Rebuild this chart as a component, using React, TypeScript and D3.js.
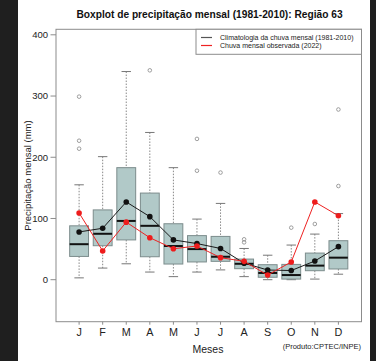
import React from 'react';
import * as d3 from 'd3';

/* ──────────  data  ────────── */
const months = ['J', 'F', 'M', 'A', 'M', 'J', 'J', 'A', 'S', 'O', 'N', 'D'];
const whiskerLow = [3, 19, 26, 12.5, 5, 12.5, 16, 5, 0, 0, 1, 9];
const q1 = [38, 55.5, 65, 37.5, 25.6, 29, 30, 18, 4, 1, 14.7, 17.5];
const median = [58, 75, 96, 88, 55, 50, 37.5, 26, 11, 7.6, 23, 36];
const q3 = [88, 114, 183, 141.5, 91.4, 72, 70.7, 33.7, 24.5, 25, 43.5, 63.7];
const whiskerHigh = [155, 201, 340, 240.5, 183, 99, 124.6, 51, 40, 56.6, 74.5, 108];
const outliers = [[299, 227, 214], [], [], [342], [], [230, 178], [175], [61, 66], [], [85], [91], [278, 153]];
const climatology = [78, 84, 127, 103, 65, 59, 51, 27, 15.8, 15, 30.5, 54];
const observed = [109, 47, 94, 68.6, 50.6, 55, 36, 30, 7.6, 29, 127, 104.5];
const yTicks = [0, 100, 200, 300, 400];

const W = 376, H = 361;
const P = { l: 56, r: 361.5, t: 29.3, b: 321.7 };
const font = 'Liberation Sans, Arial, Helvetica, sans-serif';
const frame = '#8c8c8c';

export default function App() {
  const x = d3.scaleLinear().domain([0.02, 12.98]).range([P.l, P.r]);
  const y = d3.scaleLinear().domain([-68.6, 409]).range([P.b, P.t]);
  const bw = (x(1.4) - x(0.6));
  const cap = bw / 2;

  const line = d3.line<number>().x((_, i) => x(i + 1)).y(d => y(d));

  return (
    <svg width={W} height={H} style={{ position: 'absolute', left: 0, top: 0, background: '#fff' }}
      fontFamily={font}>
      {/* dark side strips */}
      <rect x={0} y={0} width={18} height={H} fill="#1f1f1f" />
      <rect x={370} y={0} width={6} height={H} fill="#1f1f1f" />

      <text x={209.5} y={17.5} textAnchor="middle" fontWeight="bold" fontSize={10.2} fill="#111">
        Boxplot de precipitação mensal (1981-2010): Região 63
      </text>

      {/* y axis */}
      {yTicks.map(t => (
        <g key={t}>
          <line x1={P.l - 5.5} x2={P.l} y1={y(t)} y2={y(t)} stroke={frame} />
          <text x={P.l - 8} y={y(t) + 3.4} textAnchor="end" fontSize={9.5} fill="#222">{t}</text>
        </g>
      ))}
      <text transform={`translate(31,${(P.t + P.b) / 2}) rotate(-90)`} textAnchor="middle"
        fontSize={9.5} fill="#222">Precipitação mensal (mm)</text>

      {/* x axis */}
      {months.map((m, i) => (
        <g key={i}>
          <line x1={x(i + 1)} x2={x(i + 1)} y1={P.b} y2={P.b + 3} stroke={frame} />
          <text x={x(i + 1)} y={P.b + 14} textAnchor="middle" fontSize={10.8} fill="#222">{m}</text>
        </g>
      ))}
      <text x={208} y={353} textAnchor="middle" fontSize={10.5} fill="#222">Meses</text>
      <text x={361} y={349} textAnchor="end" fontSize={7.5} fill="#222">(Produto:CPTEC/INPE)</text>

      {/* boxes */}
      {months.map((_, i) => {
        const cx = x(i + 1);
        return (
          <g key={i}>
            <line x1={cx} x2={cx} y1={y(whiskerHigh[i])} y2={y(q3[i])} stroke="#888" strokeDasharray="1.5,1.5" />
            <line x1={cx} x2={cx} y1={y(q1[i])} y2={y(whiskerLow[i])} stroke="#888" strokeDasharray="1.5,1.5" />
            <line x1={cx - cap / 2} x2={cx + cap / 2} y1={y(whiskerHigh[i])} y2={y(whiskerHigh[i])} stroke="#777" />
            <line x1={cx - cap / 2} x2={cx + cap / 2} y1={y(whiskerLow[i])} y2={y(whiskerLow[i])} stroke="#777" />
            <rect x={cx - bw / 2} y={y(q3[i])} width={bw} height={y(q1[i]) - y(q3[i])}
              fill="#b1c9c8" stroke="#7c8c8c" />
            <line x1={cx - bw / 2} x2={cx + bw / 2} y1={y(median[i])} y2={y(median[i])} stroke="#111" strokeWidth={2} />
            {outliers[i].map((o, j) => (
              <circle key={j} cx={cx} cy={y(o)} r={1.8} fill="none" stroke="#888" strokeWidth={0.8} />
            ))}
          </g>
        );
      })}

      {/* climatology + 2022 lines */}
      <path d={line(climatology) ?? ''} fill="none" stroke="#1a1a1a" strokeWidth={1} />
      {climatology.map((d, i) => <circle key={i} cx={x(i + 1)} cy={y(d)} r={2.8} fill="#111" />)}
      <path d={line(observed) ?? ''} fill="none" stroke="#ee2222" strokeWidth={1} />
      {observed.map((d, i) => <circle key={i} cx={x(i + 1)} cy={y(d)} r={2.8} fill="#ee1c1c" />)}

      {/* plot frame */}
      <rect x={P.l} y={P.t} width={P.r - P.l} height={P.b - P.t} fill="none" stroke={frame} />

      {/* legend */}
      <rect x={196} y={P.t} width={P.r - 196} height={25} fill="#fff" stroke={frame} />
      <line x1={201} x2={212} y1={37.5} y2={37.5} stroke="#555" strokeWidth={1.2} />
      <line x1={201} x2={212} y1={45.5} y2={45.5} stroke="#ee2222" strokeWidth={1.2} />
      <text x={220} y={40} fontSize={7} fill="#222">Climatologia da chuva mensal (1981-2010)</text>
      <text x={220} y={48} fontSize={7} fill="#222">Chuva mensal observada (2022)</text>
    </svg>
  );
}
